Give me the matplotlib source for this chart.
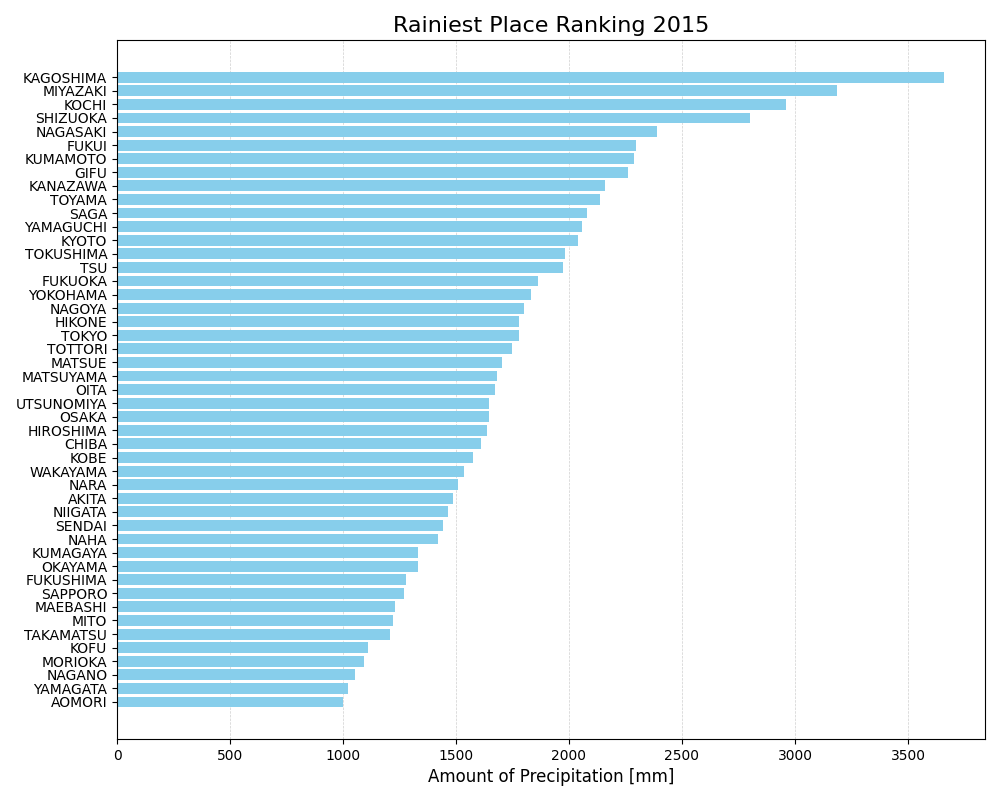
import matplotlib
matplotlib.use("Agg")
import matplotlib.pyplot as plt

cities = [
    "KAGOSHIMA", "MIYAZAKI", "KOCHI", "SHIZUOKA", "NAGASAKI", "FUKUI", "KUMAMOTO",
    "GIFU", "KANAZAWA", "TOYAMA", "SAGA", "YAMAGUCHI", "KYOTO", "TOKUSHIMA", "TSU",
    "FUKUOKA", "YOKOHAMA", "NAGOYA", "HIKONE", "TOKYO", "TOTTORI", "MATSUE",
    "MATSUYAMA", "OITA", "UTSUNOMIYA", "OSAKA", "HIROSHIMA", "CHIBA", "KOBE",
    "WAKAYAMA", "NARA", "AKITA", "NIIGATA", "SENDAI", "NAHA", "KUMAGAYA", "OKAYAMA",
    "FUKUSHIMA", "SAPPORO", "MAEBASHI", "MITO", "TAKAMATSU", "KOFU", "MORIOKA",
    "NAGANO", "YAMAGATA", "AOMORI",
]
precip = [
    3658, 3185, 2960, 2801, 2389, 2297, 2288,
    2261, 2159, 2138, 2081, 2058, 2041, 1983, 1973,
    1864, 1833, 1802, 1780, 1780, 1749, 1705,
    1683, 1674, 1647, 1647, 1638, 1612, 1577,
    1537, 1510, 1488, 1466, 1444, 1422, 1334, 1334,
    1281, 1272, 1232, 1223, 1210, 1112, 1095,
    1055, 1024, 1002,
]

fig, ax = plt.subplots(figsize=(10, 8), dpi=100)
ax.barh(cities, precip, color="skyblue")
ax.invert_yaxis()

ax.set_title("Rainiest Place Ranking 2015", fontsize=16)
ax.set_xlabel("Amount of Precipitation [mm]", fontsize=12)
ax.grid(axis="x", linestyle="--", linewidth=0.5, alpha=0.6)
ax.set_axisbelow(True)

fig.subplots_adjust(left=0.117, right=0.985, top=0.95, bottom=0.076)
fig.savefig("out.png", dpi=100)
